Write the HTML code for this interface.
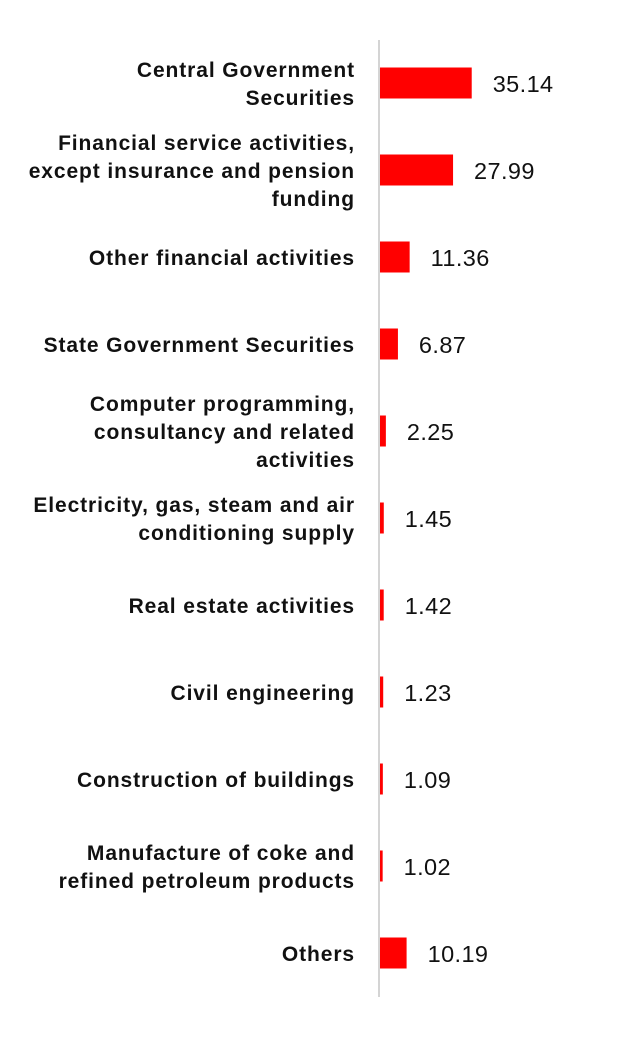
<!DOCTYPE html>
<html><head><meta charset="utf-8"><style>
body{margin:0;background:#fff;}
svg{display:block;font-family:"Liberation Sans",sans-serif;}
</style></head><body>
<svg id="chart" width="641" height="1037" viewBox="0 0 641 1037" xmlns="http://www.w3.org/2000/svg">
<rect width="641" height="1037" fill="#fff"/>
<line x1="379" y1="40" x2="379" y2="997" stroke="#d4d4d4" stroke-width="2"/>
<g id="bars"></g>
</svg>
<script>
const categories = [
 ["Central Government","Securities"],
 ["Financial service activities,","except insurance and pension","funding"],
 ["Other financial activities"],
 ["State Government Securities"],
 ["Computer programming,","consultancy and related","activities"],
 ["Electricity, gas, steam and air","conditioning supply"],
 ["Real estate activities"],
 ["Civil engineering"],
 ["Construction of buildings"],
 ["Manufacture of coke and","refined petroleum products"],
 ["Others"]
];
const values = [35.14,27.99,11.36,6.87,2.25,1.45,1.42,1.23,1.09,1.02,10.19];
const valueLabels = ["35.14","27.99","11.36","6.87","2.25","1.45","1.42","1.23","1.09","1.02","10.19"];

const x0 = 380, pxPerUnit = 2.61;
const xScale = v => x0 + v * pxPerUnit;
const rowTop = 40, rowH = 87;
const yCenter = i => rowTop + 43 + i * rowH;
const barH = 31, lineH = 28;
const g = document.getElementById('bars');
const NS = "http://www.w3.org/2000/svg";
values.forEach((v, i) => {
  const cy = yCenter(i);
  const r = document.createElementNS(NS, 'rect');
  
  
  r.setAttribute('x', x0);
  r.setAttribute('y', cy - barH / 2);
  r.setAttribute('width', Math.max(xScale(v) - x0, 1.5));
  r.setAttribute('height', barH);
  r.setAttribute('fill', '#ff0000');
  g.appendChild(r);
  const t = document.createElementNS(NS, 'text');
  
  
  t.setAttribute('x', xScale(v) + 21);
  t.setAttribute('y', cy + 9);
  t.setAttribute('font-size', '23.5');
  t.setAttribute('letter-spacing', '0.4');
  t.setAttribute('fill', '#111');
  t.textContent = valueLabels[i];
  g.appendChild(t);
  const lines = categories[i];
  const start = cy - (lines.length - 1) * lineH / 2;
  const c = document.createElementNS(NS, 'text');
  
  
  c.setAttribute('text-anchor', 'end');
  c.setAttribute('font-size', '21');
  c.setAttribute('letter-spacing', '0.9');
  c.setAttribute('font-weight', 'bold');
  c.setAttribute('fill', '#111');
  lines.forEach((ln, j) => {
    const s = document.createElementNS(NS, 'tspan');
    s.setAttribute('x', 355);
    s.setAttribute('y', start + j * lineH + 8);
    s.textContent = ln;
    c.appendChild(s);
  });
  g.appendChild(c);
});
</script>
</body></html>
